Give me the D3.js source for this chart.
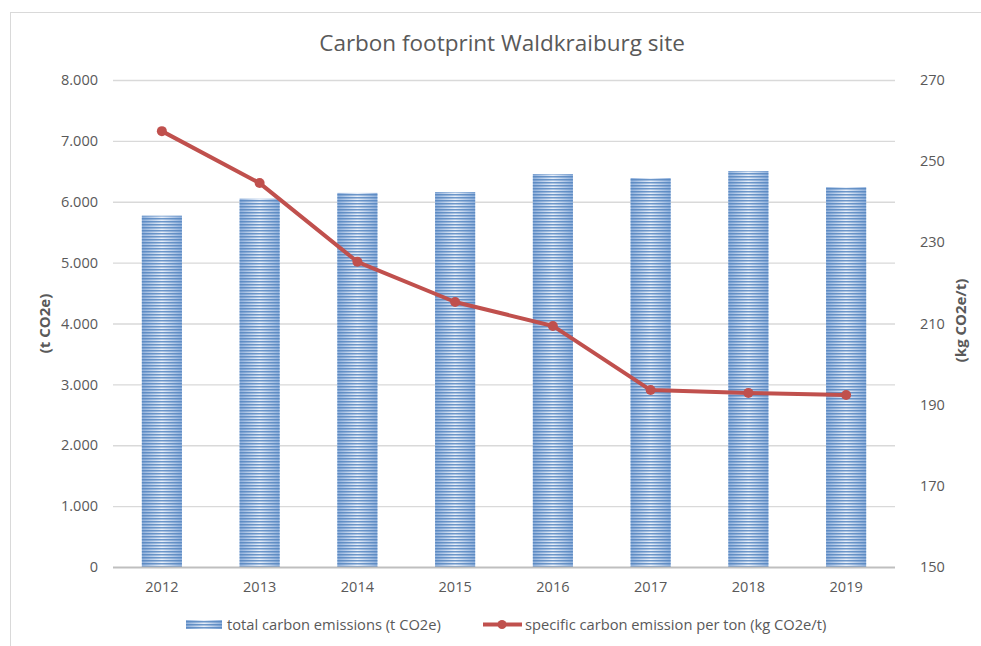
<!DOCTYPE html>
<html>
<head>
<meta charset="utf-8">
<script src="https://cdn.jsdelivr.net/npm/d3@7"></script>
<style>
  body { margin: 0; background: #fff; }
  text { font-family: "Open Sans", "Liberation Sans", sans-serif; fill: #595959; }
</style>
</head>
<body>
<div id="chart-area"></div>
<script>
// data
var years = ['2012', '2013', '2014', '2015', '2016', '2017', '2018', '2019'];
var totalEmissions = [5770, 6050, 6145, 6160, 6455, 6390, 6505, 6240];
var specificEmissions = [257.4, 244.6, 225.2, 215.3, 209.4, 193.6, 192.9, 192.4];
var leftTicks = [0, 1000, 2000, 3000, 4000, 5000, 6000, 7000, 8000];
var rightTicks = [150, 170, 190, 210, 230, 250, 270];

var W = 981, H = 646;
var margin = {top: 80, left: 113, right: 86, bottom: 79};
var width = W - margin.left - margin.right;
var height = H - margin.top - margin.bottom;

var svg = d3.select('#chart-area')
  .append('svg')
    .attr('width', W)
    .attr('height', H);

// outer chart border
svg.append('rect')
  .attr('x', 10.5).attr('y', 12.5)
  .attr('width', W + 20).attr('height', H + 20)
  .attr('fill', 'none')
  .attr('stroke', '#d9d9d9');

// bar fill: horizontal stripes + lighter middle
var defs = svg.append('defs');
var grad = defs.append('linearGradient').attr('id', 'barGrad')
  .attr('x1', '0%').attr('x2', '100%').attr('y1', '0%').attr('y2', '0%');
grad.append('stop').attr('offset', '0%').attr('stop-color', '#8eafdb');
grad.append('stop').attr('offset', '50%').attr('stop-color', '#e8eff9');
grad.append('stop').attr('offset', '100%').attr('stop-color', '#8eafdb');

var pat = defs.append('pattern').attr('id', 'stripes')
  .attr('patternUnits', 'userSpaceOnUse')
  .attr('width', 8).attr('height', 3);
pat.append('rect').attr('width', 8).attr('height', 1.5).attr('fill', '#4f81bd');

var g = svg.append('g')
  .attr('transform', 'translate(' + margin.left + ',' + margin.top + ')');

// scales
var x = d3.scaleBand().domain(years).range([0, width]).paddingInner(0.59).paddingOuter(0.295);
var y = d3.scaleLinear().domain([0, 8000]).range([height, 0]);
var y2 = d3.scaleLinear().domain([150, 270]).range([height, 0]);

// gridlines
g.selectAll('.grid').data(leftTicks.slice(1)).enter().append('line')
  .attr('x1', 0).attr('x2', width)
  .attr('y1', d => y(d) + 0.5).attr('y2', d => y(d) + 0.5)
  .attr('stroke', '#d9d9d9').attr('stroke-width', 1.3);

// bars
var bars = g.selectAll('.bar').data(years).enter().append('g');
bars.append('rect')
  .attr('x', d => x(d)).attr('width', x.bandwidth())
  .attr('y', (d, i) => y(totalEmissions[i]))
  .attr('height', (d, i) => height - y(totalEmissions[i]))
  .attr('fill', 'url(#barGrad)');
bars.append('rect')
  .attr('x', d => x(d)).attr('width', x.bandwidth())
  .attr('y', (d, i) => y(totalEmissions[i]))
  .attr('height', (d, i) => height - y(totalEmissions[i]))
  .attr('fill', 'url(#stripes)').attr('opacity', 0.8);

// x axis line
g.append('line')
  .attr('x1', 0).attr('x2', width)
  .attr('y1', height + 0.5).attr('y2', height + 0.5)
  .attr('stroke', '#bfbfbf').attr('stroke-width', 2);

// axes (labels only)
var fmt = d => d === 0 ? '0' : d3.format(',')(d).replace(/,/g, '.');
var leftAxis = g.append('g').call(d3.axisLeft(y).tickValues(leftTicks).tickSize(0).tickPadding(15).tickFormat(fmt));
var rightAxis = g.append('g').attr('transform', 'translate(' + width + ',0)')
  .call(d3.axisRight(y2).tickValues(rightTicks).tickSize(0).tickPadding(25));
var bottomAxis = g.append('g').attr('transform', 'translate(0,' + height + ')')
  .call(d3.axisBottom(x).tickSize(0).tickPadding(15));
[leftAxis, rightAxis, bottomAxis].forEach(function(a) {
  a.select('.domain').remove();
  a.selectAll('text').attr('font-size', '14.5px').attr('fill', '#595959')
    .style('font-family', '"Open Sans", sans-serif');
});

// line series
var line = d3.line()
  .x((d, i) => x(years[i]) + x.bandwidth() / 2)
  .y(d => y2(d));
g.append('path')
  .datum(specificEmissions)
  .attr('d', line)
  .attr('fill', 'none')
  .attr('stroke', '#c0504d')
  .attr('stroke-width', 4)
  .attr('stroke-linejoin', 'round');
g.selectAll('.dot').data(specificEmissions).enter().append('circle')
  .attr('cx', (d, i) => x(years[i]) + x.bandwidth() / 2)
  .attr('cy', d => y2(d))
  .attr('r', 5)
  .attr('fill', '#c0504d');

// title
svg.append('text')
  .attr('x', 502).attr('y', 51)
  .attr('text-anchor', 'middle')
  .attr('font-size', '22.5px')
  .text('Carbon footprint Waldkraiburg site');

// axis titles
svg.append('text')
  .attr('transform', 'translate(50,' + (margin.top + height / 2) + ') rotate(-90)')
  .attr('text-anchor', 'middle')
  .attr('font-size', '15px').attr('font-weight', 'bold')
  .text('(t CO2e)');
svg.append('text')
  .attr('transform', 'translate(966,' + (margin.top + height / 2 - 3) + ') rotate(-90)')
  .attr('text-anchor', 'middle')
  .attr('font-size', '15px').attr('font-weight', 'bold')
  .text('(kg CO2e/t)');

// legend
var legend = svg.append('g').attr('transform', 'translate(186,630)');
legend.append('rect').attr('x', 0).attr('y', -10).attr('width', 36).attr('height', 9).attr('fill', 'url(#barGrad)');
legend.append('rect').attr('x', 0).attr('y', -10).attr('width', 36).attr('height', 9).attr('fill', 'url(#stripes)').attr('opacity', 0.8);
legend.append('text').attr('x', 41).attr('y', 0).attr('font-size', '14.7px')
  .text('total carbon emissions (t CO2e)');
legend.append('line').attr('x1', 297).attr('x2', 336).attr('y1', -5.5).attr('y2', -5.5)
  .attr('stroke', '#c0504d').attr('stroke-width', 4);
legend.append('circle').attr('cx', 316).attr('cy', -5.5).attr('r', 4.5).attr('fill', '#c0504d');
legend.append('text').attr('x', 339).attr('y', 0).attr('font-size', '14.7px')
  .text('specific carbon emission per ton (kg CO2e/t)');
</script>
</body>
</html>
